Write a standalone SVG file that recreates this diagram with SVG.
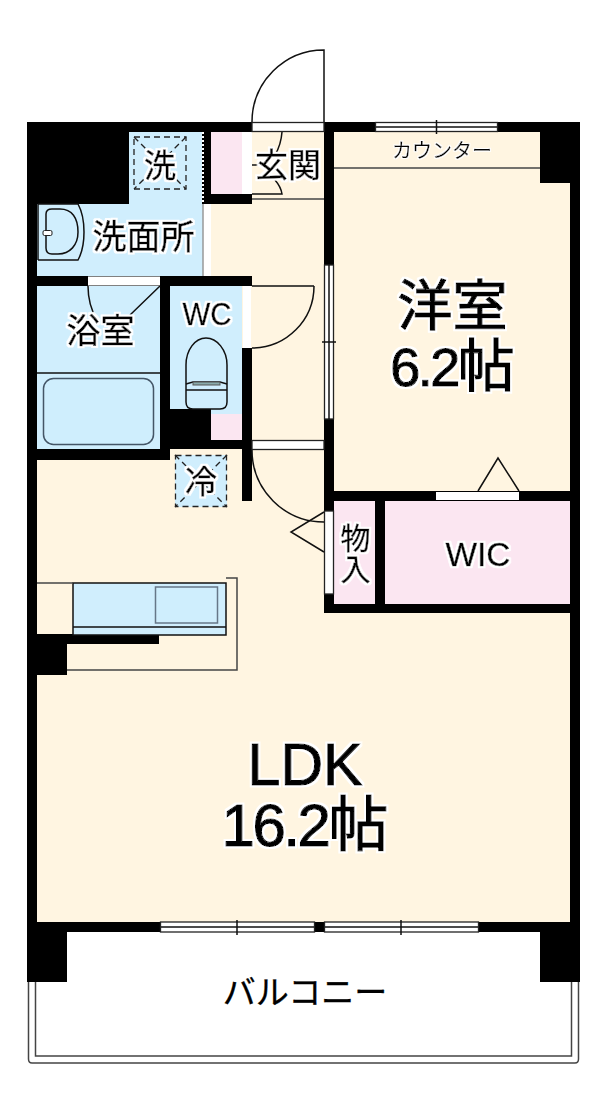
<svg xmlns="http://www.w3.org/2000/svg" width="603" height="1111" viewBox="0 0 603 1111">
<defs>
<filter id="halo" x="-20%" y="-20%" width="140%" height="140%">
<feMorphology in="SourceAlpha" operator="dilate" radius="2.2" result="d"/>
<feFlood flood-color="#fff"/>
<feComposite in2="d" operator="in" result="h"/>
<feMerge><feMergeNode in="h"/><feMergeNode in="SourceGraphic"/></feMerge>
</filter>
<filter id="halo2" x="-20%" y="-20%" width="140%" height="140%">
<feMorphology in="SourceAlpha" operator="dilate" radius="1.2" result="d"/>
<feFlood flood-color="#fff"/>
<feComposite in2="d" operator="in" result="h"/>
<feMerge><feMergeNode in="h"/><feMergeNode in="SourceGraphic"/></feMerge>
</filter>
</defs>
<style>
.k{fill:#000}.w{fill:#fff}.b{fill:#d0eefd}.c{fill:#fff5e1}.p{fill:#fbe6f1}
.l{fill:none;stroke:#111;stroke-width:1.5}
.g{fill:none;stroke:#444;stroke-width:1.5}
.d{fill:none;stroke:#222;stroke-width:1.3;stroke-dasharray:6 4}
.win{fill:#fff;stroke:#222;stroke-width:1.3}
text{font-family:"Noto Sans CJK JP","Noto Sans",sans-serif;fill:#000;text-anchor:middle;stroke:#000;stroke-width:.5px;filter:url(#halo)}
.s{font-family:"Liberation Sans",Arial,sans-serif}
.big{stroke-width:1.2px}
.thin{filter:url(#halo2);stroke-width:.2px}
.bare{filter:none;stroke-width:.3px}
</style>
<rect width="603" height="1111" fill="#fff"/>
<g id="floors">
<rect class="c" x="37" y="132" width="533" height="790"/>
<rect class="b" x="129" y="132" width="74" height="80"/>
<rect class="b" x="37" y="204" width="166" height="72"/>
<rect class="w" x="203" y="204" width="8" height="72"/>
<rect class="p" x="211" y="132" width="31" height="62"/>
<rect class="w" x="242" y="132" width="10" height="62"/>
<rect class="b" x="37" y="286" width="123" height="163"/>
<rect class="b" x="170" y="286" width="72" height="123"/>
<rect class="b" x="211" y="409" width="31" height="5"/>
<rect class="p" x="211" y="414" width="31" height="26"/>
<rect class="p" x="334" y="501" width="41" height="103"/>
<rect class="p" x="385" y="501" width="185" height="103"/>
</g>
<g id="walls">
<rect class="k" x="27" y="122" width="102" height="82"/>
<rect class="k" x="27" y="122" width="225" height="10"/>
<rect class="k" x="27" y="122" width="10" height="860"/>
<rect class="k" x="324" y="122" width="256" height="10"/>
<rect class="k" x="204" y="194" width="48" height="10"/>
<rect class="k" x="204" y="122" width="7" height="82"/>
<rect class="k" x="324" y="122" width="10" height="143"/>
<rect class="k" x="540" y="122" width="40" height="61"/>
<rect class="k" x="570" y="122" width="10" height="860"/>
<rect class="k" x="27" y="276" width="225" height="10"/>
<rect class="k" x="160" y="276" width="10" height="184"/>
<rect class="k" x="27" y="449" width="143" height="11"/>
<rect class="k" x="170" y="409" width="41" height="40"/>
<rect class="k" x="170" y="440" width="82" height="9"/>
<rect class="k" x="242" y="348" width="10" height="153"/>
<rect class="k" x="324" y="419" width="10" height="92"/>
<rect class="k" x="334" y="491" width="246" height="10"/>
<rect class="k" x="375" y="491" width="10" height="122"/>
<rect class="k" x="324" y="594" width="10" height="19"/>
<rect class="k" x="324" y="604" width="256" height="9"/>
<rect class="k" x="27" y="634" width="132" height="10"/>
<rect class="k" x="27" y="634" width="40" height="41"/>
<rect class="k" x="27" y="922" width="553" height="10"/>
<rect class="k" x="27" y="922" width="40" height="60"/>
<rect class="k" x="540" y="922" width="40" height="60"/>
</g>
<g id="openings">
<rect class="w" x="88" y="276.500" width="72" height="9"/>
<rect class="w" x="243" y="286" width="8" height="62"/>
<rect class="win" x="252" y="122.500" width="72" height="9"/>
<rect class="win" x="252" y="440.500" width="72" height="9"/>
<rect class="win" x="324.500" y="511" width="9" height="83" stroke="#555"/>
<rect class="w" x="436" y="492" width="83" height="8"/>
<rect class="win" x="375.500" y="122.500" width="122" height="9"/>
<path class="l" d="M376 127H497M436.500 120V134" stroke-width="1"/>
<rect class="win" x="324.500" y="265" width="9" height="154"/>
<path class="l" d="M329 265V419M322 342H336"/>
<rect class="win" x="160.500" y="922" width="154" height="10"/>
<rect class="win" x="324.500" y="922" width="154" height="10"/>
<path class="l" d="M161 927H314M325 927H478M237 920V935M401 920V935"/>
</g>
<g id="doors">
<path class="l" d="M252 122A72 72 0 0 1 324 50V122"/>
<path class="l" d="M314 286H252M314 286A62 62 0 0 1 252 348"/>
<path class="l" d="M252 450A72 72 0 0 0 324 522"/>
<path class="l" d="M324 512L291 532L324 552"/>
<path class="l" d="M478 491L498 458L519 491"/>
<path class="l" d="M88 286Q88 305 97 320M160 286L130 315"/>
<path class="l" d="M282 132Q281 145 275 155M275 180Q281 187 282 194H252M252 165H258"/>
</g>
<g id="fixtures">
<path class="g" d="M334 168H540"/>
<path class="g" d="M252 199H324"/>
<path stroke="#999" stroke-width="1.5" fill="none" d="M203 204V276"/>
<path stroke="#000" stroke-width="2" fill="none" d="M203 132V204"/>
<path stroke="#fff" stroke-width="2" stroke-dasharray="2 2" fill="none" d="M203 132V204"/>
<g id="laundry-pan">
<rect class="d" x="134" y="137" width="52" height="52"/>
<path class="d" d="M134 137L186 189M186 137L134 189"/>
</g>
<g id="fridge-pan">
<rect class="b" x="175" y="455" width="52" height="52"/>
<rect class="d" x="175.500" y="455.500" width="51" height="51"/>
<path class="d" d="M175 455L227 507M227 455L175 507"/>
</g>
<g id="basin">
<path class="l" d="M38 204H78Q84 215 84 232T78 260H38"/>
<path class="l" stroke-width="1.2" d="M38 204V260"/>
<path class="l" d="M46 214Q46 209 52 209H60C72 209 78 218 78 232C78 245 70 254 58 254H52Q46 254 46 248Z"/>
<rect x="43" y="230.500" width="9" height="5" rx="1.500" fill="#fff" stroke="#222"/>
</g>
<g id="bathtub">
<path class="l" d="M37 373H160"/>
<rect x="43.500" y="378.500" width="110" height="66" rx="10" fill="#cfeefd" stroke="#456" stroke-width="1.500"/>
</g>
<g id="toilet">
<path class="l" d="M186 390V365C186 350 195 338 206 338S227 350 227 365V402Q227 409 220 409H193Q186 409 186 402Z"/>
<path class="l" d="M186 384L193 382H220L227 384M186 390H227" stroke-width="1.200"/>
<rect x="193" y="382" width="27" height="3" fill="#8aa" stroke="#555"/>
</g>
<g id="kitchen">
<rect class="b" x="73" y="583" width="153" height="52"/>
<path class="l" d="M226 583H73V635H226ZM73 627H226"/>
<rect x="155.500" y="587" width="62" height="36" fill="#cfeefd" stroke="#678" stroke-width="1.500"/>
<path class="g" d="M37 583H73"/>
<path class="g" d="M226 578H237V670H67"/>
</g>
<g id="balcony">
<path class="g" d="M28.500 982V1059Q28.500 1063 32 1063H575Q578.500 1063 578.500 1059V982"/>
<path class="g" d="M35.500 982V1056H571.500V982"/>
</g>
</g>
<g id="labels">
<text x="160" y="177" font-size="32">洗</text>
<text x="143.500" y="249" font-size="34">洗面所</text>
<text x="288" y="177" font-size="33">玄関</text>
<text x="100.500" y="343" font-size="34">浴室</text>
<text class="s" x="207" y="325" font-size="32" textLength="49" lengthAdjust="spacingAndGlyphs">WC</text>
<text x="201" y="493" font-size="32">冷</text>
<text x="355.500" y="549" font-size="30">物</text>
<text x="355.500" y="580" font-size="30">入</text>
<text class="s" x="478" y="566" font-size="34" textLength="65" lengthAdjust="spacingAndGlyphs">WIC</text>
<text class="thin" x="442" y="158" font-size="20">カウンター</text>
<text class="big" x="452.500" y="325" font-size="55">洋室</text>
<text class="s big" x="452.500" y="386" font-size="54"><tspan letter-spacing="-2.500">6.2</tspan><tspan font-family="Noto Sans CJK JP" font-size="57">帖</tspan></text>
<text class="s big" x="305" y="785" font-size="59">LDK</text>
<text class="s big" x="305" y="846" font-size="60"><tspan letter-spacing="-2.500">16.2</tspan><tspan font-family="Noto Sans CJK JP">帖</tspan></text>
<text class="bare" x="305" y="1004" font-size="33">バルコニー</text>
</g>
</svg>
